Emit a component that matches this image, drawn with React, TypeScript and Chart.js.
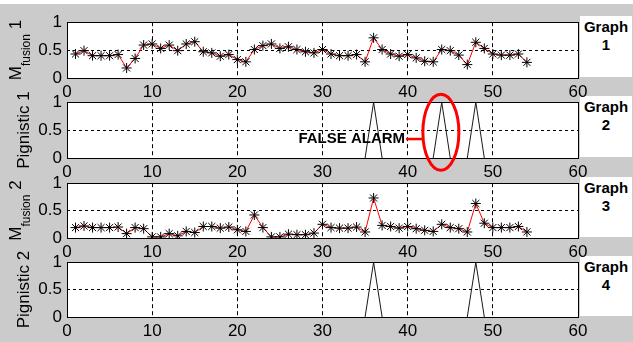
import React, { useEffect, useRef } from "react";
import { Chart, registerables } from "chart.js";
Chart.register(...registerables);

// ---------- data ----------
const sampleIndex = [
  1, 2, 3, 4, 5, 6, 7, 8, 9, 10, 11, 12, 13, 14, 15, 16, 17, 18, 19, 20,
  21, 22, 23, 24, 25, 26, 27, 28, 29, 30, 31, 32, 33, 34, 35, 36, 37, 38, 39, 40,
  41, 42, 43, 44, 45, 46, 47, 48, 49, 50, 51, 52, 53, 54,
];
const mFusion1 = [
  0.43, 0.49, 0.40, 0.40, 0.40, 0.42, 0.18, 0.35, 0.59, 0.61, 0.53, 0.59, 0.49, 0.61, 0.65, 0.47, 0.45, 0.39, 0.42, 0.33,
  0.29, 0.51, 0.58, 0.61, 0.53, 0.56, 0.51, 0.47, 0.45, 0.51, 0.43, 0.40, 0.40, 0.42, 0.29, 0.72, 0.51, 0.43, 0.39, 0.42,
  0.36, 0.30, 0.29, 0.51, 0.49, 0.41, 0.24, 0.64, 0.53, 0.43, 0.41, 0.41, 0.43, 0.28,
];
const pignistic1 = [
  0, 0, 0, 0, 0, 0, 0, 0, 0, 0, 0, 0, 0, 0, 0, 0, 0, 0, 0, 0,
  0, 0, 0, 0, 0, 0, 0, 0, 0, 0, 0, 0, 0, 0, 0, 1, 0, 0, 0, 0,
  0, 0, 0, 1, 0, 0, 0, 1, 0, 0, 0, 0, 0, 0,
];
const mFusion2 = [
  0.19, 0.22, 0.19, 0.19, 0.19, 0.20, 0.08, 0.19, 0.17, 0.02, 0.02, 0.08, 0.04, 0.12, 0.10, 0.21, 0.21, 0.18, 0.20, 0.15,
  0.12, 0.42, 0.19, 0.02, 0.02, 0.07, 0.06, 0.06, 0.09, 0.25, 0.19, 0.18, 0.18, 0.20, 0.11, 0.73, 0.23, 0.21, 0.18, 0.21,
  0.17, 0.14, 0.12, 0.25, 0.19, 0.17, 0.11, 0.63, 0.27, 0.19, 0.19, 0.19, 0.21, 0.11,
];
const pignistic2 = [
  0, 0, 0, 0, 0, 0, 0, 0, 0, 0, 0, 0, 0, 0, 0, 0, 0, 0, 0, 0,
  0, 0, 0, 0, 0, 0, 0, 0, 0, 0, 0, 0, 0, 0, 0, 1, 0, 0, 0, 0,
  0, 0, 0, 0, 0, 0, 0, 1, 0, 0, 0, 0, 0, 0,
];
const xTicks = [0, 10, 20, 30, 40, 50, 60];
const yTicks = [0, 0.5, 1];
const graphNames = ["1", "2", "3", "4"];
const annotationText = "FALSE ALARM";

// ---------- layout ----------
const FONT = "'Liberation Sans', Arial, sans-serif";
const BG = "#cbcbcb";
const PLOT_LEFT = 67;
const PLOT_RIGHT = 578;
const W = 633;
const PAD_TOP = 10;
const X_AXIS_H = 24;

type PanelDef = {
  top: number;
  bottom: number;
  kind: "fusion" | "pig";
  num: string;
  values: number[];
  annotate?: boolean;
};

const panels: PanelDef[] = [
  { top: 17, bottom: 78, kind: "fusion", num: "1", values: mFusion1 },
  { top: 97, bottom: 158, kind: "pig", num: "1", values: pignistic1, annotate: true },
  { top: 178, bottom: 238, kind: "fusion", num: "2", values: mFusion2 },
  { top: 257, bottom: 317, kind: "pig", num: "2", values: pignistic2 },
];

function drawYLabel(ctx: CanvasRenderingContext2D, p: PanelDef, cy: number) {
  ctx.save();
  ctx.fillStyle = "#000";
  ctx.textBaseline = "alphabetic";
  if (p.kind === "pig") {
    ctx.translate(29, cy);
    ctx.rotate(-Math.PI / 2);
    ctx.font = `17px ${FONT}`;
    ctx.textAlign = "center";
    ctx.fillText(`Pignistic ${p.num}`, 0, 0);
  } else {
    const big = `17px ${FONT}`;
    const small = `12px ${FONT}`;
    ctx.font = big;
    const wM = ctx.measureText("M").width;
    const wN = ctx.measureText(" " + p.num).width;
    ctx.font = small;
    const wS = ctx.measureText("fusion").width;
    const total = wM + wS + wN;
    ctx.translate(21, cy);
    ctx.rotate(-Math.PI / 2);
    ctx.textAlign = "left";
    let x = -total / 2;
    ctx.font = big;
    ctx.fillText("M", x, 0);
    x += wM;
    ctx.font = small;
    ctx.fillText("fusion", x, 9);
    x += wS;
    ctx.font = big;
    ctx.fillText(" " + p.num, x, 0);
  }
  ctx.restore();
}

function Panel({ p }: { p: PanelDef }) {
  const ref = useRef<HTMLCanvasElement>(null);
  const canvasTop = p.top - PAD_TOP;
  const canvasH = p.bottom - p.top + PAD_TOP + X_AXIS_H;

  useEffect(() => {
    if (!ref.current) return;
    const isFusion = p.kind === "fusion";
    const data = sampleIndex.map((x, i) => ({ x, y: p.values[i] }));
    const framePlugin = {
      id: "frame",
      beforeDraw(chart: any) {
        const { ctx, chartArea: a } = chart;
        ctx.save();
        ctx.fillStyle = "#fff";
        ctx.fillRect(a.left, a.top, a.right - a.left, a.bottom - a.top);
        ctx.restore();
      },
      afterDraw(chart: any) {
        const { ctx, chartArea: a } = chart;
        ctx.save();
        ctx.strokeStyle = "#000";
        ctx.lineWidth = 1;
        ctx.strokeRect(Math.round(a.left) + 0.5, Math.round(a.top) + 0.5, Math.round(a.right - a.left), Math.round(a.bottom - a.top));
        ctx.restore();
        drawYLabel(ctx, p, (a.top + a.bottom) / 2);
        if (p.annotate) {
          const xs = chart.scales.x;
          const ys = chart.scales.y;
          ctx.save();
          ctx.font = `bold 15px ${FONT}`;
          ctx.fillStyle = "#000";
          ctx.textAlign = "right";
          ctx.textBaseline = "middle";
          const tx = xs.getPixelForValue(39.7);
          const ty = ys.getPixelForValue(0.34);
          ctx.fillText(annotationText, tx, ty);
          const cx = xs.getPixelForValue(43.9);
          const cy = ys.getPixelForValue(0.46);
          const rx = 18;
          const ry = 38;
          ctx.strokeStyle = "#ff0000";
          ctx.lineWidth = 2.5;
          ctx.beginPath();
          ctx.moveTo(tx + 1, ty);
          ctx.lineTo(cx - rx, ty);
          ctx.stroke();
          ctx.lineWidth = 3;
          ctx.beginPath();
          ctx.ellipse(cx, cy, rx, ry, 0, 0, Math.PI * 2);
          ctx.stroke();
          ctx.restore();
        }
      },
    };
    const lineColor = isFusion ? "#ff0000" : "#1a1a1a";
    const chart = new Chart(ref.current, {
      type: "line",
      data: {
        datasets: [
          {
            data,
            borderColor: lineColor,
            borderWidth: 1,
            tension: 0,
            pointStyle: "star",
            pointRadius: isFusion ? 5 : 0,
            pointBorderColor: "#000",
            pointBackgroundColor: "#000",
            pointBorderWidth: 1,
            fill: false,
            segment: isFusion
              ? undefined
              : {
                  borderColor: (c: any) =>
                    c.p0.parsed.y === 0 && c.p1.parsed.y === 0 ? "rgba(0,0,0,0)" : lineColor,
                },
          },
        ],
      },
      options: {
        responsive: false,
        animation: false,
        devicePixelRatio: 1,
        layout: { padding: { top: PAD_TOP, right: W - PLOT_RIGHT, left: 0, bottom: 0 } },
        plugins: { legend: { display: false }, tooltip: { enabled: false } },
        scales: {
          x: {
            type: "linear",
            min: 0,
            max: 60,
            afterBuildTicks: (s: any) => {
              s.ticks = xTicks.map((v) => ({ value: v }));
            },
            afterFit: (s: any) => {
              s.height = X_AXIS_H;
            },
            grid: { color: "#000", lineWidth: 1, drawTicks: false },
            border: { display: false, dash: [4, 3] },
            ticks: {
              color: "#000",
              font: { family: FONT, size: 17 },
              padding: 4,
              maxRotation: 0,
              autoSkip: false,
              callback: (v: any) => String(v),
            },
          },
          y: {
            type: "linear",
            min: 0,
            max: 1,
            afterBuildTicks: (s: any) => {
              s.ticks = yTicks.map((v) => ({ value: v }));
            },
            afterFit: (s: any) => {
              s.width = PLOT_LEFT;
            },
            grid: { color: "#000", lineWidth: 1, drawTicks: false },
            border: { display: false, dash: [3, 3] },
            ticks: {
              color: "#000",
              font: { family: FONT, size: 17 },
              padding: 5,
              autoSkip: false,
              callback: (v: any) => String(v),
            },
          },
        },
      } as any,
      plugins: [framePlugin],
    });
    return () => chart.destroy();
  }, []);

  return (
    <canvas
      ref={ref}
      width={W}
      height={canvasH}
      style={{ position: "absolute", left: 0, top: canvasTop, width: W, height: canvasH }}
    />
  );
}

export default function App() {
  return (
    <div
      style={{
        position: "fixed",
        left: 0,
        top: 0,
        width: W,
        height: 342,
        background: BG,
        overflow: "hidden",
      }}
    >
      <div style={{ position: "absolute", left: 0, top: 0, width: W, height: 4, background: "#fff" }} />
      {panels.map((p, i) => (
        <div
          key={"g" + i}
          style={{
            position: "absolute",
            left: 580,
            top: p.top - 1,
            width: 52,
            height: p.bottom - p.top,
            background: "#fff",
            fontFamily: FONT,
            fontWeight: "bold",
            fontSize: 15,
            lineHeight: "18px",
            textAlign: "center",
            paddingTop: 2,
            boxSizing: "border-box",
            color: "#000",
          }}
        >
          Graph
          <br />
          {graphNames[i]}
        </div>
      ))}
      {panels.map((p, i) => (
        <Panel key={"p" + i} p={p} />
      ))}
    </div>
  );
}
